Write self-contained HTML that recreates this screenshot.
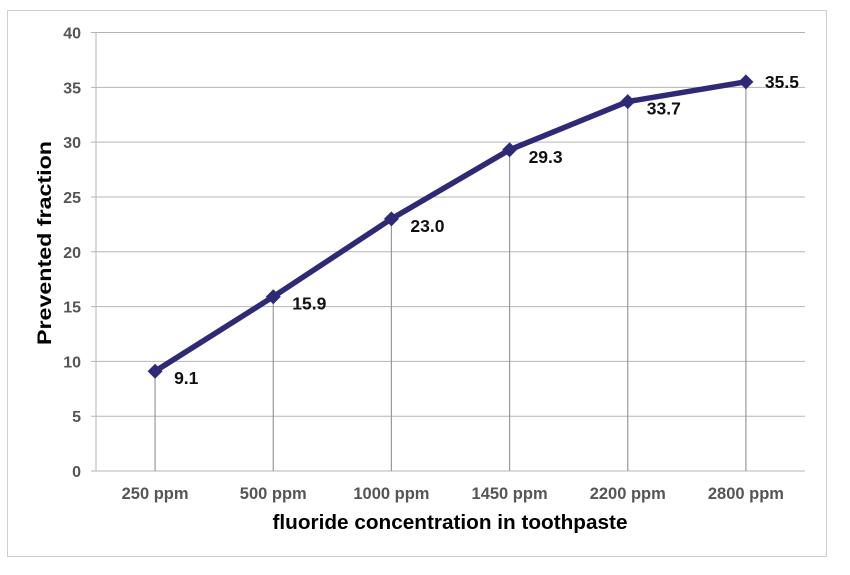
<!DOCTYPE html>
<html><head><meta charset="utf-8"><style>
body{margin:0;background:#fff;width:850px;height:575px;overflow:hidden}
svg{display:block;font-family:"Liberation Sans",Arial,sans-serif;font-weight:bold}
</style></head><body>
<svg id="chart" width="850" height="575" viewBox="0 0 850 575">
<rect x="7.5" y="10.5" width="819" height="546" fill="#fff" stroke="#cfcfcf" stroke-width="1"/>
<g id="grid"></g><g id="drops"></g><g id="axes"></g><g id="series"></g><g id="labels"></g>
<text x="450" y="529" text-anchor="middle" font-size="20" fill="#000" textLength="355" lengthAdjust="spacingAndGlyphs">fluoride concentration in toothpaste</text>
<text transform="translate(51,243) rotate(-90)" text-anchor="middle" font-size="19" fill="#000" textLength="204" lengthAdjust="spacingAndGlyphs">Prevented fraction</text>
</svg>
<script>
const categories=["250 ppm","500 ppm","1000 ppm","1450 ppm","2200 ppm","2800 ppm"];
const values=[9.1,15.9,23.0,29.3,33.7,35.5];
const valueLabels=["9.1","15.9","23.0","29.3","33.7","35.5"];
const yTicks=[0,5,10,15,20,25,30,35,40];
const NS="http://www.w3.org/2000/svg";
const x0=96,x1=805,y0=471,y1=32.5,ymax=40;
const xs=i=>x0+(i+0.5)*(x1-x0)/categories.length;
const ys=v=>y0-(v/ymax)*(y0-y1);
function mk(t,a,p){const e=document.createElementNS(NS,t);for(const k in a)e.setAttribute(k,a[k]);p.appendChild(e);return e;}
const grid=document.getElementById('grid'),drops=document.getElementById('drops'),axes=document.getElementById('axes'),series=document.getElementById('series'),labels=document.getElementById('labels');
yTicks.forEach(t=>{
 const l=mk('line',{x1:91,x2:x1,y1:ys(t),y2:ys(t),stroke:'#b5b5b5','stroke-width':1},grid);
 
 
 const tx=mk('text',{x:81,y:ys(t)+6,'text-anchor':'end','font-size':16,fill:'#555'},axes);
 tx.textContent=t;
 
 
});
const ya=mk('line',{x1:x0,x2:x0,y1:y1,y2:y0,stroke:'#b5b5b5','stroke-width':1},axes);


categories.forEach((c,i)=>{
 const tx=mk('text',{x:xs(i),y:499,'text-anchor':'middle','font-size':16.5,fill:'#555'},axes);
 tx.textContent=c;
 
 
 const d=mk('line',{x1:xs(i),x2:xs(i),y1:ys(values[i]),y2:y0,stroke:'#999','stroke-width':1.2},drops);
 
 
});
const pts=values.map((v,i)=>xs(i)+','+ys(v)).join(' ');
const pl=mk('polyline',{points:pts,fill:'none',stroke:'#2e2a75','stroke-width':5.5,'stroke-linejoin':'round'},series);


values.forEach((v,i)=>{
 const x=xs(i),y=ys(v),r=7.5;
 const m=mk('polygon',{points:`${x},${y-r} ${x+r},${y} ${x},${y+r} ${x-r},${y}`,fill:'#2e2a75'},series);
 
 
 const tx=mk('text',{x:x+19,y:y+(i==5?6:13),'font-size':17.5,fill:'#111'},labels);
 tx.textContent=valueLabels[i];
 
 
});
</script>
</body></html>
